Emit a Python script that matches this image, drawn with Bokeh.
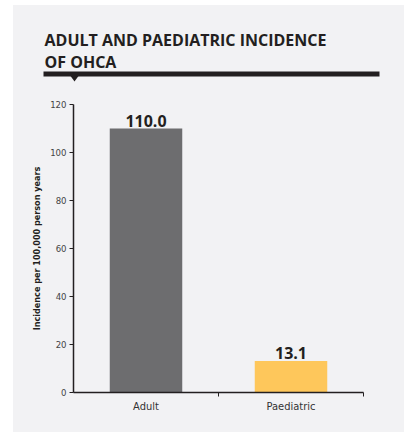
from bokeh.plotting import figure
from bokeh.models import ColumnDataSource, FixedTicker, Range1d, Spacer
from bokeh.layouts import row, column
from bokeh.embed import file_html
from bokeh.resources import INLINE
from bokeh.core.properties import value

# ---- data ----
title_lines = ["ADULT AND PAEDIATRIC INCIDENCE", "OF OHCA"]
categories = ["Adult", "Paediatric"]
incidence = [110.0, 13.1]
bar_colors = ["#6d6d6f", "#fec75b"]
y_ticks = [0, 20, 40, 60, 80, 100, 120]
y_label = "Incidence per 100,000 person years"

BG = "#f2f2f4"
DARK = "#231f20"
COND = "DejaVu Sans Condensed"
W = 391

# ---- header (title + rule) ----
HH = 85
h = figure(width=W, height=HH, output_backend="svg", toolbar_location=None,
           x_range=Range1d(0, W), y_range=Range1d(HH, 0),
           min_border=0, x_axis_type=None, y_axis_type=None)
h.background_fill_color = BG
h.border_fill_color = BG
h.outline_line_color = None
h.grid.visible = False
h.text(x=[31, 31], y=[34.5, 56], text=title_lines, text_font=value("Open Sans"),
       text_font_style="bold", text_font_size="16px", text_color=DARK,
       text_baseline="middle", text_align="left")
h.quad(left=[30], right=[366], top=[66], bottom=[71], fill_color=DARK, line_color=None)
h.patch(x=[57, 65, 61], y=[70.5, 70.5, 76], fill_color=DARK, line_color=None)

# ---- chart ----
xs = [i + 0.5 for i in range(len(categories))]
bounds = [float(i + 1) for i in range(len(categories))]
src = ColumnDataSource(dict(x=xs, top=incidence, color=bar_colors,
                            label=[f"{v:.1f}" for v in incidence]))

p = figure(width=W, height=342, output_backend="svg", toolbar_location=None,
           x_range=Range1d(0, len(categories)), y_range=Range1d(y_ticks[0], y_ticks[-1]),
           min_border_left=60, min_border_right=41, min_border_top=14,
           min_border_bottom=40)
p.background_fill_color = BG
p.border_fill_color = BG
p.outline_line_color = None
p.grid.visible = False

p.vbar(x="x", top="top", width=0.5, fill_color="color", line_color=None, source=src)
p.text(x="x", y="top", text="label", source=src, text_align="center",
       text_baseline="middle", y_offset=-8, text_font=value("Open Sans"),
       text_font_style="bold", text_font_size="16px", text_color=DARK)

ya = p.yaxis[0]
ya.ticker = FixedTicker(ticks=y_ticks)
ya.axis_line_color = DARK
ya.axis_line_width = 1.5
ya.major_tick_in = 0
ya.major_tick_out = 4
ya.major_tick_line_color = DARK
ya.minor_tick_line_color = None
ya.major_label_text_font = COND
ya.major_label_text_font_size = "9.5px"
ya.major_label_text_color = "#444444"
ya.major_label_standoff = 3
ya.axis_label = y_label
ya.axis_label_text_font = COND
ya.axis_label_text_font_style = "bold"
ya.axis_label_text_font_size = "9px"
ya.axis_label_text_color = DARK
ya.axis_label_standoff = 5

xa = p.xaxis[0]
xa.ticker = FixedTicker(ticks=xs, minor_ticks=bounds)
xa.major_label_overrides = {x: c for x, c in zip(xs, categories)}
xa.axis_line_color = DARK
xa.axis_line_width = 1.5
xa.major_tick_line_color = None
xa.major_tick_in = 0
xa.major_tick_out = 0
xa.minor_tick_in = 0
xa.minor_tick_out = 4
xa.minor_tick_line_color = DARK
xa.major_label_text_font = COND
xa.major_label_text_font_size = "11px"
xa.major_label_text_color = "#333333"
xa.major_label_standoff = 3

for fig in (h, p):
    if "frame_align" in fig.properties():
        fig.frame_align = False

panel = column(h, p, spacing=0, styles={"background-color": BG})
layout = column(Spacer(height=5), row(Spacer(width=13), panel))
open("out.html", "w").write(file_html(layout, INLINE))
